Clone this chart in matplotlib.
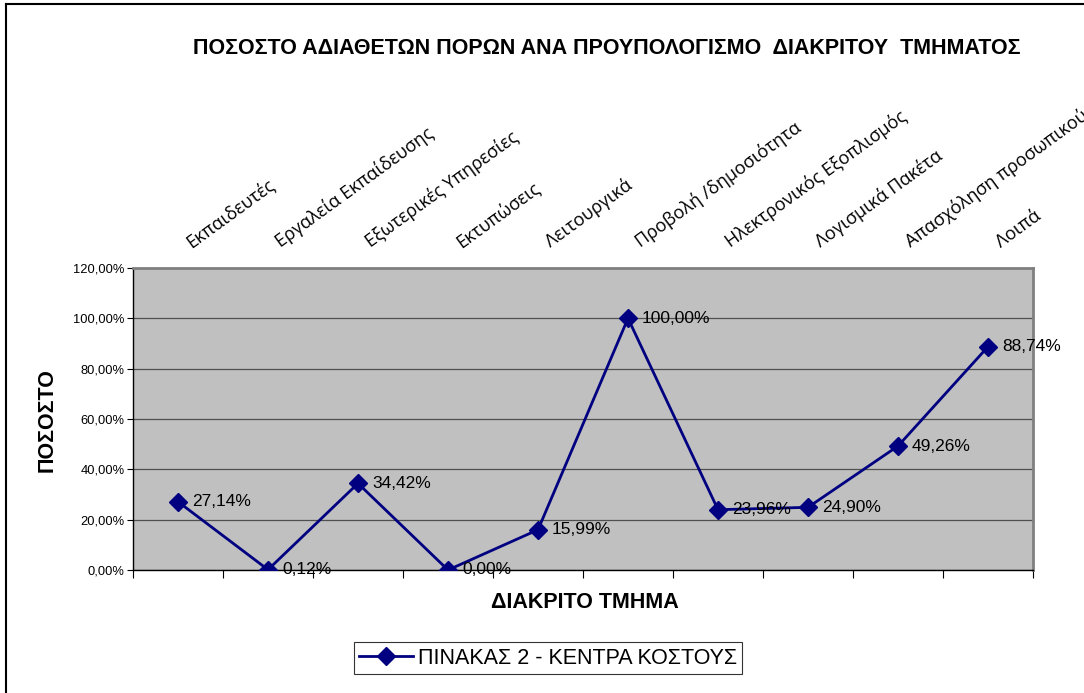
import matplotlib
matplotlib.use('Agg')
import matplotlib.pyplot as plt
from matplotlib.lines import Line2D
from matplotlib.ticker import FixedLocator, FuncFormatter

categories = ['Εκπαιδευτές', 'Εργαλεία Εκπαίδευσης', 'Εξωτερικές Υπηρεσίες',
              'Εκτυπώσεις', 'Λειτουργικά', 'Προβολή /δημοσιότητα',
              'Ηλεκτρονικός Εξοπλισμός', 'Λογισμικά Πακέτα',
              'Απασχόληση προσωπικού', 'Λοιπά']
values = [27.14, 0.12, 34.42, 0.00, 15.99, 100.00, 23.96, 24.90, 49.26, 88.74]
yticks = [0, 20, 40, 60, 80, 100, 120]

W, H = 1084, 693
fig = plt.figure(figsize=(W / 100, H / 100), dpi=100)
ax = fig.add_axes([133 / W, 1 - 570 / H, 900 / W, 302 / H])

navy = '#000080'
x = list(range(len(values)))
ax.plot(x, values, color=navy, lw=2, marker='D', ms=9,
        label='ΠΙΝΑΚΑΣ 2 - ΚΕΝΤΡΑ ΚΟΣΤΟΥΣ', zorder=3)

for xi, v in zip(x, values):
    ax.annotate(f'{v:.2f}%'.replace('.', ','), (xi, v), xytext=(10, 0),
                textcoords='offset points', va='center', ha='left',
                fontsize=12.5, family='Liberation Sans', color='black', zorder=4)

ax.set_xlim(-0.5, len(values) - 0.5)
ax.set_ylim(0, 120)
ax.set_facecolor('#C0C0C0')
ax.set_yticks(yticks)
ax.yaxis.set_major_formatter(FuncFormatter(lambda v, p: f'{v:.2f}%'.replace('.', ',')))
ax.grid(axis='y', color='#505050', lw=0.9)
ax.set_axisbelow(True)
for lab in ax.get_yticklabels():
    lab.set_family('Liberation Sans')
    lab.set_fontsize(9.3)
ax.tick_params(axis='y', length=4, width=0.8, pad=2)

# category boundaries as ticks at the bottom
ax.xaxis.set_major_locator(FixedLocator([i - 0.5 for i in range(len(values) + 1)]))
ax.set_xticklabels([])
ax.tick_params(axis='x', length=6, width=0.8, direction='out')

for s in ['top', 'right']:
    ax.spines[s].set_color('#808080')
    ax.spines[s].set_linewidth(2)
for s in ['left', 'bottom']:
    ax.spines[s].set_color('black')
    ax.spines[s].set_linewidth(1)

# category labels along the top
for xi, c in zip(x, categories):
    ax.annotate(c, (xi, 120), xytext=(11, 12), textcoords='offset points',
                rotation=36, rotation_mode='anchor', ha='left', va='bottom',
                fontsize=13, family='Open Sans', annotation_clip=False)

fig.text(607 / W, 1 - 48 / H,
         'ΠΟΣΟΣΤΟ ΑΔΙΑΘΕΤΩΝ ΠΟΡΩΝ ΑΝΑ ΠΡΟΥΠΟΛΟΓΙΣΜΟ  ΔΙΑΚΡΙΤΟΥ  ΤΜΗΜΑΤΟΣ',
         ha='center', va='center', fontsize=15.5, fontweight='bold',
         family='Liberation Sans')
fig.text(47 / W, 1 - 420 / H, 'ΠΟΣΟΣΤΟ', rotation=90, ha='center', va='center',
         fontsize=15.5, fontweight='bold', family='Liberation Sans')
fig.text(585 / W, 1 - 603 / H, 'ΔΙΑΚΡΙΤΟ ΤΜΗΜΑ', ha='center', va='center',
         fontsize=15.5, fontweight='bold', family='Liberation Sans')

leg = fig.legend(loc='center', bbox_to_anchor=(548 / W, 1 - 658 / H),
                 prop={'family': 'Liberation Sans', 'size': 15.5},
                 frameon=True, fancybox=False, edgecolor='black',
                 handlelength=2.5, borderpad=0.25, handletextpad=0.2)
leg.get_frame().set_linewidth(0.8)

# outer chart frame (only left and top visible)
fig.add_artist(Line2D([6 / W, 6 / W], [0, 1 - 4 / H], color='black', lw=1.5,
                      transform=fig.transFigure))
fig.add_artist(Line2D([6 / W, 1], [1 - 4 / H, 1 - 4 / H], color='black', lw=1.5,
                      transform=fig.transFigure))

fig.savefig('out.png', dpi=100)
